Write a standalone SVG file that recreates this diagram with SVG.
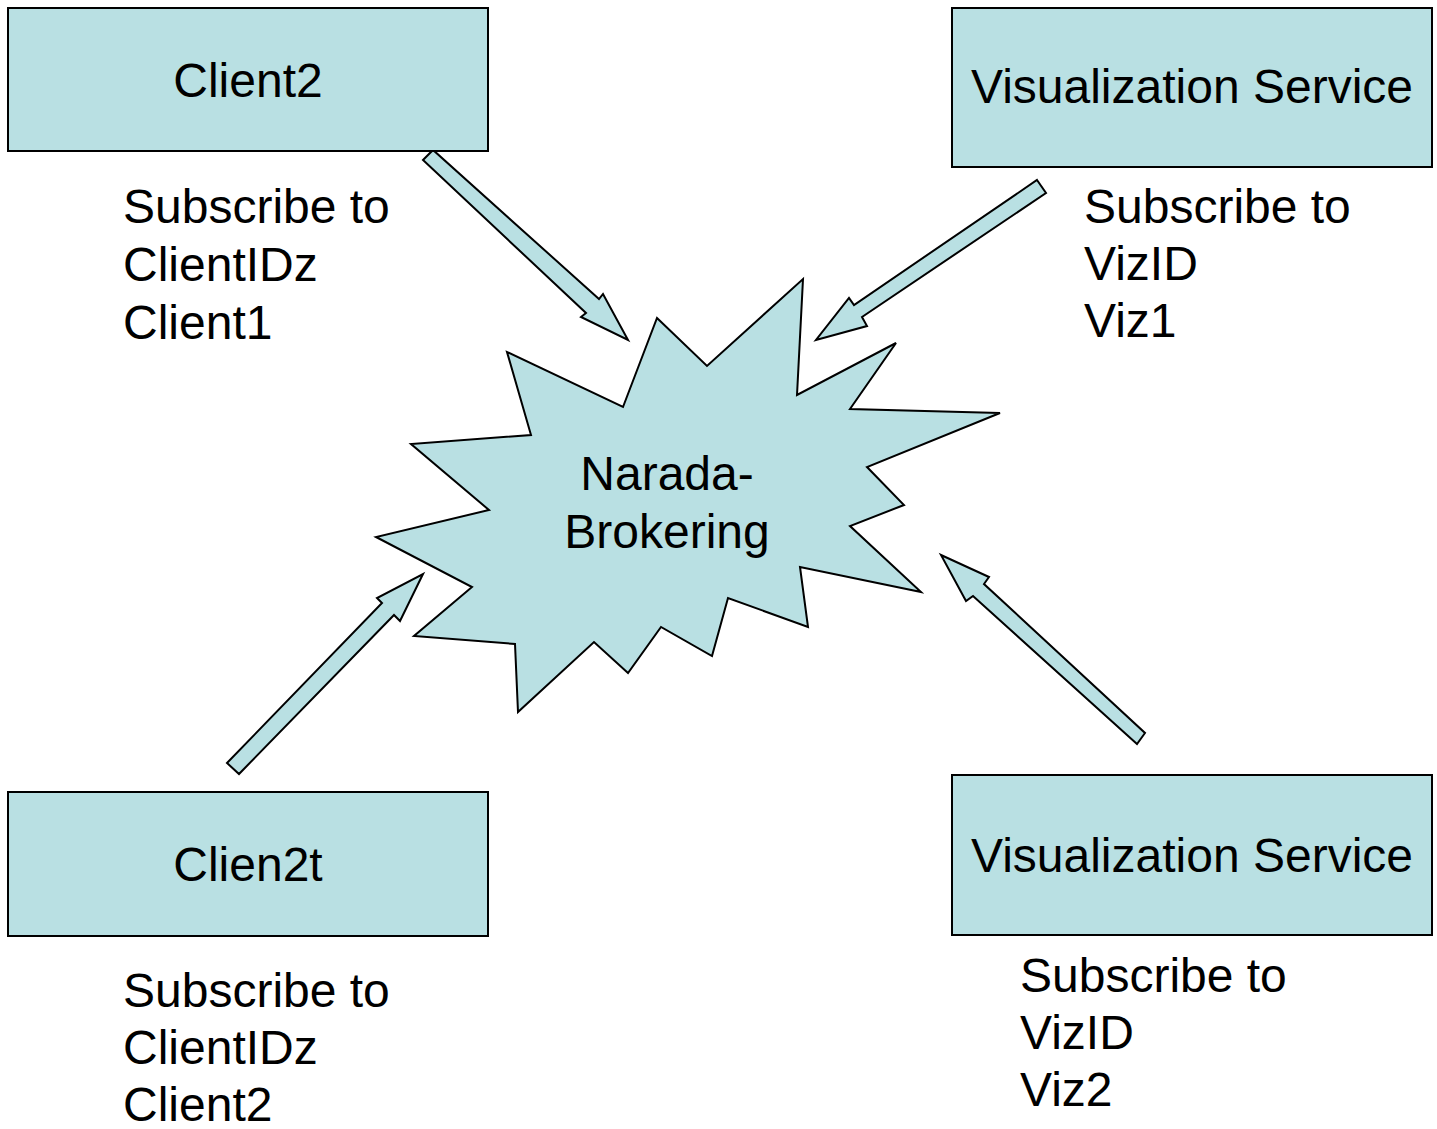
<svg xmlns="http://www.w3.org/2000/svg" width="1437" height="1129" viewBox="0 0 1437 1129">
<style>
.shape{fill:#B9E0E3;stroke:#000;stroke-width:2;stroke-linejoin:miter}
.t{font-family:"Liberation Sans",Arial,sans-serif;font-size:48px;fill:#000}
.c{text-anchor:middle}
</style>
<rect x="0" y="0" width="1437" height="1129" fill="#fff"/>
<g id="connectors">
<polygon class="shape" points="423,160 433,150 599,299 603,294 628,340 581,317 586,313"/>
<polygon class="shape" points="1037,180 1046,193 862,317 867,326 816,340 849,298 854,305"/>
<polygon class="shape" points="227,763 382,603 377,598 423,574 400,621 394,615 239,774"/>
<polygon class="shape" points="941,555 989,577 984,584 1145,733 1137,744 973,596 966,601"/>
</g>
<g id="broker">
<polygon class="shape" points="657,318 707,366 803,279 797,395 896,343 850,409 1000,413 867,467 904,505 850,526 921,592 800,567 808,627 728,598 712,656 661,627 628,673 594,642 518,712 515,644 414,636 472,587 376,537 489,510 411,444 531,435 507,352 623,407"/>
<text class="t c" x="667" y="490">Narada-</text>
<text class="t c" x="667" y="548">Brokering</text>
</g>
<g id="client2">
<rect class="shape" x="8" y="8" width="480" height="143"/>
<text class="t c" x="248" y="97">Client2</text>
<text class="t" x="123" y="223">Subscribe to</text>
<text class="t" x="123" y="281">ClientIDz</text>
<text class="t" x="123" y="339">Client1</text>
</g>
<g id="viz1">
<rect class="shape" x="952" y="8" width="480" height="159"/>
<text class="t c" x="1192" y="103">Visualization Service</text>
<text class="t" x="1084" y="223">Subscribe to</text>
<text class="t" x="1084" y="280">VizID</text>
<text class="t" x="1084" y="337">Viz1</text>
</g>
<g id="clien2t">
<rect class="shape" x="8" y="792" width="480" height="144"/>
<text class="t c" x="248" y="881">Clien2t</text>
<text class="t" x="123" y="1007">Subscribe to</text>
<text class="t" x="123" y="1064">ClientIDz</text>
<text class="t" x="123" y="1121">Client2</text>
</g>
<g id="viz2">
<rect class="shape" x="952" y="775" width="480" height="160"/>
<text class="t c" x="1192" y="872">Visualization Service</text>
<text class="t" x="1020" y="992">Subscribe to</text>
<text class="t" x="1020" y="1049">VizID</text>
<text class="t" x="1020" y="1106">Viz2</text>
</g>
</svg>
